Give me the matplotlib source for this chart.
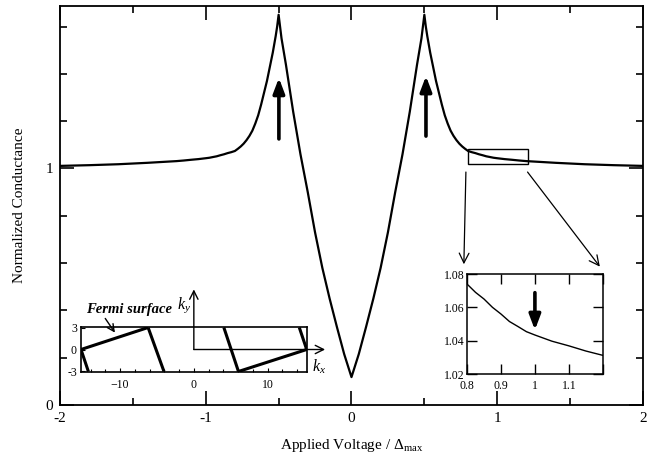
import matplotlib
matplotlib.use('Agg')
import matplotlib.pyplot as plt
import numpy as np
from matplotlib.patches import Rectangle
from matplotlib.ticker import MultipleLocator

plt.rcParams['font.family'] = ['Liberation Serif', 'DejaVu Serif']
plt.rcParams['mathtext.fontset'] = 'custom'
plt.rcParams['mathtext.rm'] = 'Liberation Serif'
plt.rcParams['mathtext.it'] = 'Liberation Serif:italic'
plt.rcParams['mathtext.bf'] = 'Liberation Serif:bold'

# normalized conductance, V >= 0 half (curve is symmetric)
v_half = [0, 0.05, 0.1, 0.15, 0.2, 0.25, 0.3, 0.35, 0.4, 0.45, 0.48, 0.5,
          0.51, 0.52, 0.54, 0.56, 0.58, 0.6, 0.62, 0.64, 0.66, 0.68, 0.7,
          0.72, 0.74, 0.76, 0.78, 0.8, 0.825, 0.85, 0.875, 0.9, 0.925,
          0.95, 0.975, 1.0, 1.05, 1.1, 1.15, 1.2, 1.4, 1.6, 1.8, 2.0]
g_half = [0.118, 0.215, 0.33, 0.45, 0.58, 0.73, 0.9, 1.06, 1.24, 1.44, 1.55, 1.65,
          1.60, 1.56, 1.49, 1.43, 1.37, 1.32, 1.27, 1.225, 1.19, 1.16, 1.138,
          1.12, 1.105, 1.093, 1.083, 1.074, 1.069, 1.065, 1.060, 1.056, 1.0515,
          1.0485, 1.0454, 1.0434, 1.0397, 1.0369, 1.0338, 1.0312, 1.024, 1.018, 1.014, 1.011]

v_all = np.concatenate([-np.array(v_half[::-1]), np.array(v_half[1:])])
g_all = np.concatenate([np.array(g_half[::-1]), np.array(g_half[1:])])

# Fermi surface segments (kx0, ky0, kx1, ky1)
fs_segs = [(-15.3, 0, -6.2, 3), (-6.2, 3, -4.05, -3), (-15.3, 0, -14.3, -3),
           (15.3, 0, 6.05, -3), (6.05, -3, 4.07, 3), (15.3, 0, 14.3, 3)]

fig = plt.figure(figsize=(6.47, 4.66), dpi=100)
ax = fig.add_axes([0.0927, 0.1309, 0.9011, 0.8562])
ax.plot(v_all, g_all, color='k', lw=1.6)
ax.set_xlim(-2, 2)
ax.set_ylim(0, 1.687)
ax.set_xticks([-2, -1, 0, 1, 2])
ax.set_xticklabels(['-2', '-1', '0', '1', '2'])
ax.xaxis.set_minor_locator(MultipleLocator(0.5))
ax.set_yticks([0, 1])
ax.yaxis.set_minor_locator(MultipleLocator(0.2))
ax.tick_params(which='both', direction='in', top=True, right=True, width=1.2, labelsize=11, pad=5)
ax.tick_params(which='major', length=10)
ax.tick_params(which='minor', length=5)
for s in ax.spines.values():
    s.set_linewidth(1.3)
ax.set_xlabel('Applied Voltage / $\\Delta_{\\rm max}$', fontsize=11, labelpad=9)
ax.set_ylabel('Normalized Conductance', fontsize=11, labelpad=14)

big = dict(arrowstyle='-|>,head_length=0.45,head_width=0.17', lw=2.6, color='k',
           shrinkA=0, shrinkB=0, mutation_scale=20)
ax.annotate('', xy=(-0.498, 1.383), xytext=(-0.498, 1.125), arrowprops=big)
ax.annotate('', xy=(0.511, 1.391), xytext=(0.511, 1.137), arrowprops=big)

ax.add_patch(Rectangle((0.8, 1.019), 0.41, 0.063, fill=False, lw=1.0, color='k'))
thin = dict(arrowstyle='->,head_length=0.5,head_width=0.25', lw=0.9, color='k',
            shrinkA=0, shrinkB=0, mutation_scale=14)
ax.annotate('', xy=(0.771, 0.595), xytext=(0.785, 0.985), arrowprops=thin)
ax.annotate('', xy=(1.704, 0.585), xytext=(1.208, 0.985), arrowprops=thin)

# zoom inset
axz = fig.add_axes([0.7218, 0.1974, 0.2099, 0.2146])
axz.plot(v_all, g_all, color='k', lw=1.0)
axz.set_xlim(0.8, 1.2)
axz.set_ylim(1.02, 1.08)
axz.set_xticks([0.8, 0.9, 1.0, 1.1, 1.2])
axz.set_xticklabels(['0.8', '0.9', '1', '1.1', ''])
axz.set_yticks([1.02, 1.04, 1.06, 1.08])
axz.set_yticklabels(['1.02', '1.04', '1.06', '1.08'])
axz.tick_params(direction='in', top=True, right=True, length=7, width=1.0, labelsize=8.5)
axz.tick_params(axis='x', pad=4)
axz.tick_params(axis='y', pad=2)
for s in axz.spines.values():
    s.set_linewidth(1.1)
axz.annotate('', xy=(1.0, 1.0464), xytext=(1.0, 1.0688), arrowprops=big)

# Fermi surface inset
axf = fig.add_axes([0.1252, 0.2017, 0.3488, 0.0966])
for x0, y0, x1, y1 in fs_segs:
    axf.plot([x0, x1], [y0, y1], color='k', lw=2.2, solid_capstyle='butt')
axf.set_xlim(-15.3, 15.3)
axf.set_ylim(-3.07, 3.07)
axf.set_xticks([-10, 0, 10])
axf.set_xticklabels(['\u221210', '0', '10'])
axf.xaxis.set_minor_locator(MultipleLocator(2))
axf.set_yticks([-3, 0, 3])
axf.set_yticklabels(['-3', '0', '3'])
axf.tick_params(which='both', direction='in', labelsize=8.5, width=0.8)
axf.tick_params(axis='x', pad=5)
axf.tick_params(axis='y', pad=3)
axf.tick_params(which='major', length=3)
axf.tick_params(which='minor', length=2)
for s in axf.spines.values():
    s.set_linewidth(1.2)
axarr = dict(arrowstyle='->,head_length=0.5,head_width=0.25', lw=1.0, color='k',
             shrinkA=0, shrinkB=0, mutation_scale=12)
axf.annotate('', xy=(17.8, 0), xytext=(0, 0), arrowprops=axarr, annotation_clip=False)
axf.annotate('', xy=(0, 8.2), xytext=(0, 0), arrowprops=axarr, annotation_clip=False)
axf.text(-2.3, 6.0, '$k_y$', fontsize=11.5, ha='left', va='center')
axf.text(16.0, -2.3, '$k_x$', fontsize=11.5, ha='left', va='center')
axf.annotate('Fermi surface', xy=(-10.7, 2.3), xytext=(-14.6, 5.5),
             fontsize=10.5, fontweight='bold', fontstyle='italic', va='center', ha='left',
             arrowprops=dict(arrowstyle='->,head_length=0.5,head_width=0.25', lw=1.0,
                             color='k', shrinkA=0, shrinkB=0, mutation_scale=10,
                             relpos=(0.2, 0.0)),
             annotation_clip=False)

fig.savefig('out.png', dpi=100)
